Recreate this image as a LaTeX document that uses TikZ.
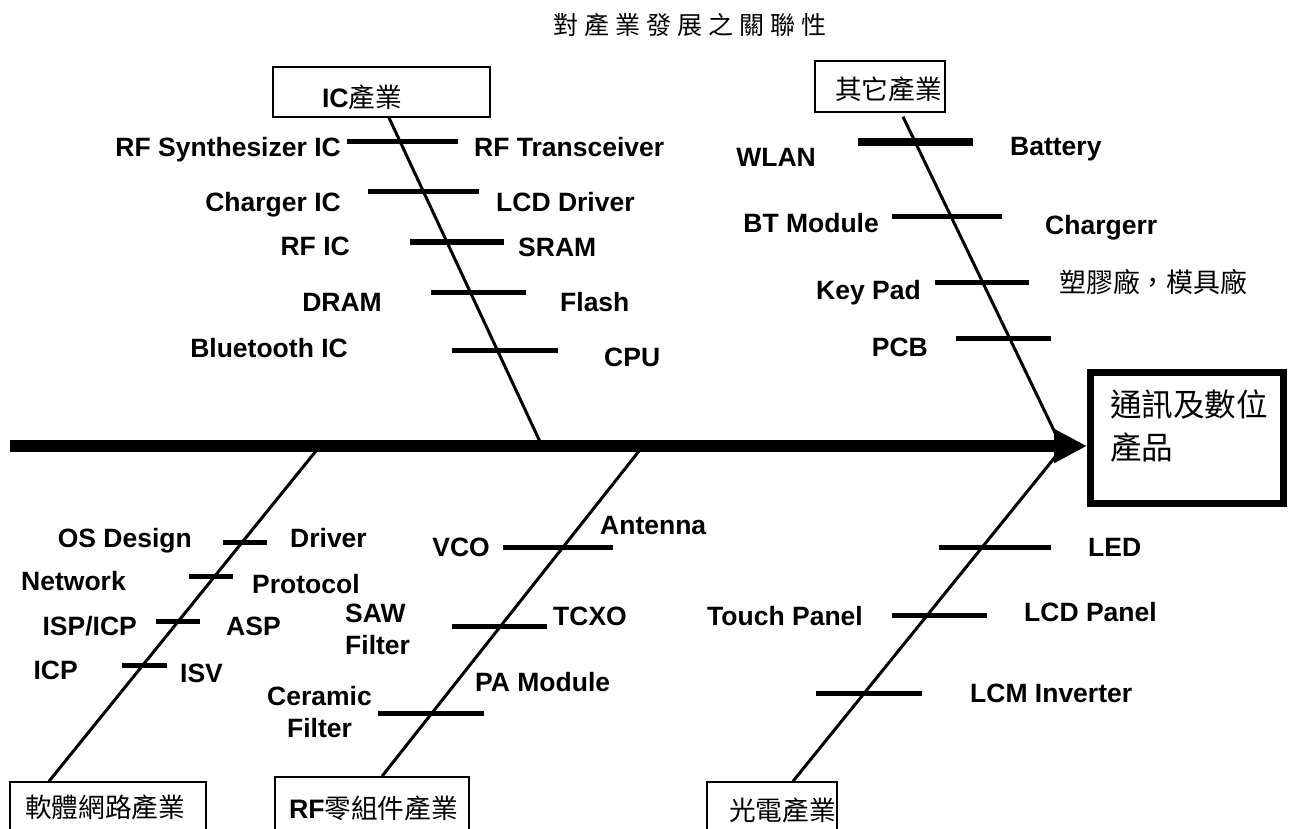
\documentclass[tikz,border=0pt]{standalone}
\usepackage{fontspec}
\setmainfont{Liberation Sans}
\newfontfamily\cjk{Noto Sans CJK TC}
\newfontfamily\titlecjk[LetterSpace=24]{Noto Sans CJK TC}
\usetikzlibrary{calc,arrows.meta}

\begin{document}
\begin{tikzpicture}[x=1pt,y=-1pt]
      \tikzstyle{item}=[font=\bfseries\fontsize{26.5}{31}\selectfont, inner sep=0pt, text height=19pt, text depth=0pt]
      \tikzstyle{item2}=[font=\bfseries\fontsize{26.5}{32}\selectfont, inner sep=0pt]
      \tikzstyle{industry}=[rectangle, draw=black, line width=1.5pt, inner ysep=0pt, align=left, font=\mdseries\cjk\fontsize{26.7}{30}\selectfont]
      \tikzstyle{bone}=[line width=3pt]
      \tikzstyle{rib}=[line width=5pt]
      \tikzstyle{spine}=[line width=12pt, -{Triangle[length=33pt,width=32pt]}]

      \useasboundingbox (0,0) rectangle (1293,829);
      \clip (0,0) rectangle (1293,829);

      \node[font=\titlecjk\fontsize{25}{30}\selectfont] (title) at (690,25) {對產業發展之關聯性};

      % head and spine
      \node[rectangle, draw, line width=7pt, minimum width=193pt, minimum height=131pt, text width=154pt, inner xsep=19.5pt, inner ysep=0pt, text depth=70pt, align=left, font=\cjk\fontsize{31.6}{43}\selectfont] (prod) at (1187,438) {通訊及數位\\產品};
      \coordinate (tail) at (10,446);
      \draw[spine] (tail) -- (tail -| prod.west);

      % industries
      \node[industry, minimum width=217pt, minimum height=50pt, text width=119pt, inner xsep=49pt, text height=35pt, text depth=3pt] (ic) at (381.5,92) {{\rmfamily\bfseries IC}產業};
      \node[industry, minimum width=130pt, minimum height=51pt, text width=90pt, inner xsep=20pt, text height=29pt, text depth=3pt] (other) at (880,86.5) {其它產業};
      \node[industry, minimum width=196pt, minimum height=50pt, text width=166pt, inner xsep=15pt] (soft) at (108,807) {軟體網路產業};
      \node[industry, minimum width=194pt, minimum height=62pt, text width=166pt, inner xsep=14pt] (rf) at (372,808) {{\rmfamily\bfseries RF}零組件產業};
      \node[industry, minimum width=130pt, minimum height=56pt, text width=86pt, inner xsep=22pt] (opto) at (772,810) {光電產業};

      \coordinate (icfoot) at (542,446);
      \coordinate (otherfoot) at (1060,443);
      \coordinate (softfoot) at (320,446);
      \coordinate (rffoot) at (643,446);
      \coordinate (optofoot) at (1060,451);

      \draw[bone] ($(ic.south)+(7.5,0)$) -- (icfoot);
      \draw[bone] ($(other.south)+(23,4)$) -- (otherfoot);
      \draw[bone] ($(soft.north)+(-59,0)$) -- (softfoot);
      \draw[bone] ($(rf.north)+(10,0)$) -- (rffoot);
      \draw[bone] ($(opto.north)+(21,0)$) -- (optofoot);

      % IC
      \draw[rib] (347,142) -- (458,142);
      \draw[rib] (368,192) -- (479,192);
      \draw[rib] (410,242) -- (504,242);
      \draw[rib] (431,292) -- (526,292);
      \draw[rib] (452,350) -- (558,350);
      \node[item, anchor=east] (rfsyn) at (341,147) {RF Synthesizer IC};
      \node[item, anchor=west] (rftrx) at (474,147) {RF Transceiver};
      \node[item, anchor=east] (chgic) at (341,202) {Charger IC};
      \node[item, anchor=west] (lcddrv) at (496,202) {LCD Driver};
      \node[item, anchor=east] (rfic) at (350,246) {RF IC};
      \node[item, anchor=west] (sram) at (518,247) {SRAM};
      \node[item, anchor=east] (dram) at (382,302) {DRAM};
      \node[item, anchor=west] (flash) at (560,302) {Flash};
      \node[item, anchor=east] (btic) at (348,348) {Bluetooth IC};
      \node[item, anchor=west] (cpu) at (604,357) {CPU};

      % other
      \draw[rib, line width=8pt] (858,142) -- (973,142);
      \draw[rib] (892,217) -- (1002,217);
      \draw[rib] (935,282) -- (1029,282);
      \draw[rib] (956,338) -- (1051,338);
      \node[item, anchor=east] (wlan) at (816,157) {WLAN};
      \node[item, anchor=west] (battery) at (1010,146) {Battery};
      \node[item, anchor=east] (btmod) at (879,223) {BT Module};
      \node[item, anchor=west] (charger) at (1045,225) {Chargerr};
      \node[item, anchor=east] (keypad) at (921,290) {Key Pad};
      \node[anchor=west, inner sep=0pt, font=\cjk\fontsize{26.9}{30}\selectfont] (plastic) at (1059,282) {塑膠廠，模具廠};
      \node[item, anchor=east] (pcb) at (928,347) {PCB};

      % software
      \draw[rib] (223,542) -- (267,542);
      \draw[rib] (189,576) -- (233,576);
      \draw[rib] (156,621) -- (200,621);
      \draw[rib] (122,665) -- (167,665);
      \node[item, anchor=east] (os) at (192,538) {OS Design};
      \node[item, anchor=west] (driver) at (290,538) {Driver};
      \node[item, anchor=east] (network) at (126,581) {Network};
      \node[item, anchor=west] (protocol) at (252,584) {Protocol};
      \node[item, anchor=east] (isp) at (137,626) {ISP/ICP};
      \node[item, anchor=west] (asp) at (226,626) {ASP};
      \node[item, anchor=east] (icp) at (78,670) {ICP};
      \node[item, anchor=west] (isv) at (180,673) {ISV};

      % rf parts
      \draw[rib] (503,547) -- (613,547);
      \draw[rib] (452,626) -- (547,626);
      \draw[rib] (378,713) -- (484,713);
      \node[item, anchor=east] (vco) at (490,547) {VCO};
      \node[item, anchor=west] (antenna) at (600,525) {Antenna};
      \node[item2, anchor=west, align=left] (saw) at (345,629) {SAW\\Filter};
      \node[item, anchor=west] (tcxo) at (553,616) {TCXO};
      \node[item2, align=center] (ceramic) at (319.5,712.5) {Ceramic\\Filter};
      \node[item, anchor=west] (pa) at (475,682) {PA Module};

      % opto
      \draw[rib] (939,547) -- (1051,547);
      \draw[rib] (892,615) -- (987,615);
      \draw[rib] (816,693) -- (922,693);
      \node[item, anchor=west] (led) at (1088,547) {LED};
      \node[item, anchor=east] (touch) at (863,616) {Touch Panel};
      \node[item, anchor=west] (lcdpanel) at (1024,612) {LCD Panel};
      \node[item, anchor=west] (lcm) at (970,693) {LCM Inverter};

    \end{tikzpicture}
\end{document}
